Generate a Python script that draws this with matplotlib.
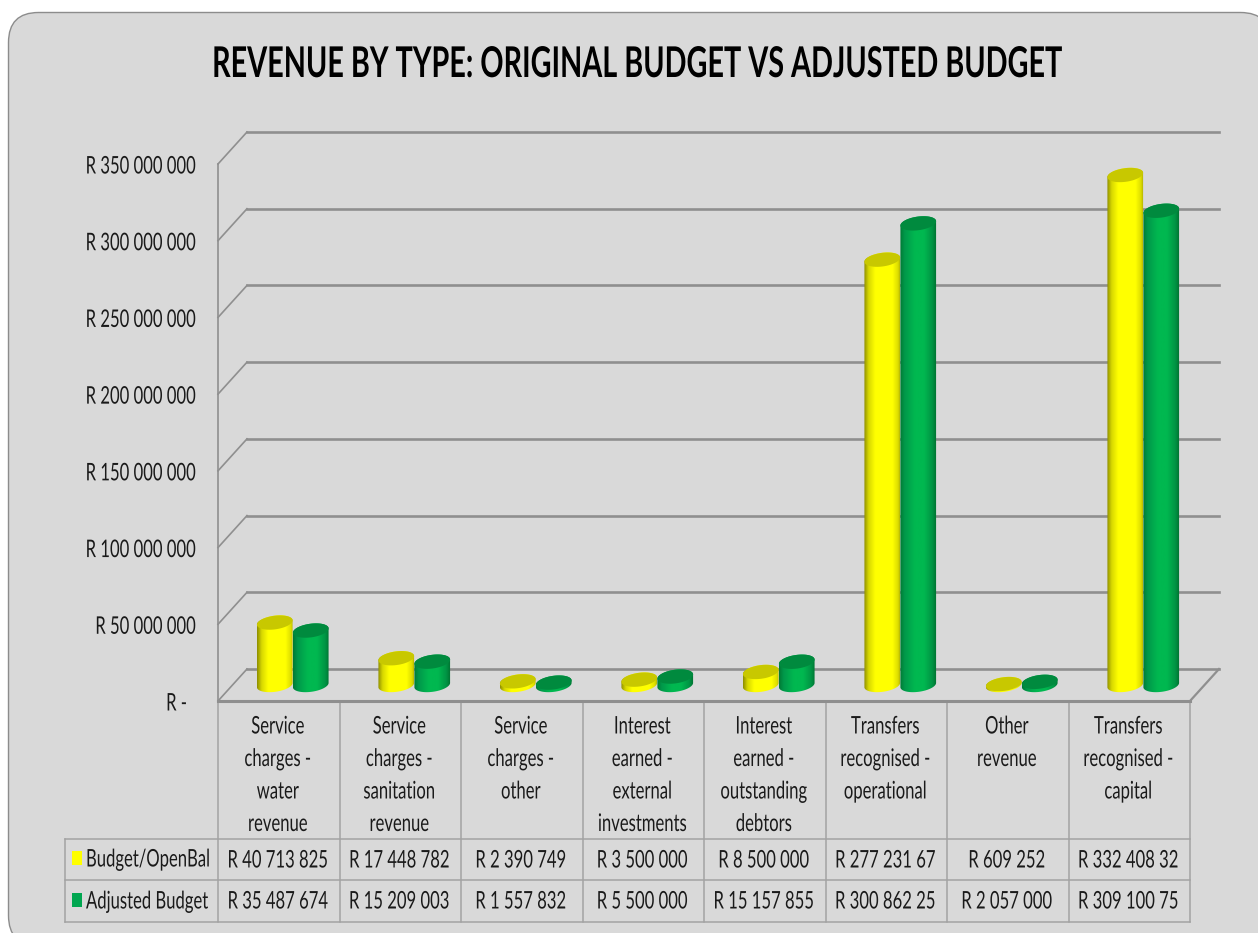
import numpy as np
import matplotlib
matplotlib.use('Agg')
import matplotlib.pyplot as plt
from matplotlib.patches import FancyBboxPatch, Polygon, Rectangle
from matplotlib.colors import LinearSegmentedColormap
from matplotlib.patheffects import AbstractPathEffect
from matplotlib.text import Text
from matplotlib.transforms import Affine2D, Bbox, blended_transform_factory

categories = [
    ['Service', 'charges -', 'water', 'revenue'],
    ['Service', 'charges -', 'sanitation', 'revenue'],
    ['Service', 'charges -', 'other'],
    ['Interest', 'earned -', 'external', 'investments'],
    ['Interest', 'earned -', 'outstanding', 'debtors'],
    ['Transfers', 'recognised -', 'operational'],
    ['Other', 'revenue'],
    ['Transfers', 'recognised -', 'capital'],
]
budget = [40713825, 17448782, 2390749, 3500000, 8500000, 277231670, 609252, 332408320]
adjusted = [35487674, 15209003, 1557832, 5500000, 15157855, 300862250, 2057000, 309100750]
# the last columns are cut short in the table cells
budget_labels = ['R 40 713 825', 'R 17 448 782', 'R 2 390 749', 'R 3 500 000',
                 'R 8 500 000', 'R 277 231 67', 'R 609 252', 'R 332 408 32']
adjusted_labels = ['R 35 487 674', 'R 15 209 003', 'R 1 557 832', 'R 5 500 000',
                   'R 15 157 855', 'R 300 862 25', 'R 2 057 000', 'R 309 100 75']
y_ticks = [0, 50000000, 100000000, 150000000, 200000000, 250000000, 300000000, 350000000]
y_labels = ['R -', 'R 50 000 000', 'R 100 000 000', 'R 150 000 000', 'R 200 000 000',
            'R 250 000 000', 'R 300 000 000', 'R 350 000 000']
series_names = ['Budget/OpenBal', 'Adjusted Budget']

W, H = 1258, 933
LINE = '#8f8f8f'
CELL = '#a3a3a3'
TEXT = '#1a1a1a'
plt.rcParams['font.family'] = ['Lato', 'DejaVu Sans']


class Squeeze(AbstractPathEffect):
    # narrows the glyph outlines around the anchor of the text
    def __init__(self, text, factor):
        super().__init__()
        self.text = text
        self.factor = factor

    def draw_path(self, renderer, gc, tpath, affine, rgbFace=None):
        ax_x = self.text.get_transform().transform(self.text.get_position())[0]
        squeeze = Affine2D().translate(-ax_x, 0).scale(self.factor, 1).translate(ax_x, 0)
        renderer.draw_path(gc, tpath, affine + squeeze, rgbFace)


class NarrowText(Text):
    def __init__(self, x, y, s, factor=0.7, **kw):
        super().__init__(x, y, s, **kw)
        self.factor = factor
        self.set_path_effects([Squeeze(self, factor)])

    def get_window_extent(self, renderer=None, dpi=None):
        bb = super().get_window_extent(renderer, dpi)
        ax_x = self.get_transform().transform(self.get_position())[0]
        return Bbox([[ax_x + (bb.x0 - ax_x) * self.factor, bb.y0],
                     [ax_x + (bb.x1 - ax_x) * self.factor, bb.y1]])


def narrow(axes, x, y, s, **kw):
    kw.setdefault('transform', axes.transData)
    kw.setdefault('fontsize', 17.5)
    kw.setdefault('color', TEXT)
    kw.setdefault('va', 'center')
    kw.setdefault('factor', 0.685)
    t = NarrowText(x, y, s, **kw)
    axes.add_artist(t)
    return t


fig = plt.figure(figsize=(W / 100, H / 100), dpi=100, facecolor='white')

# page layer in pixels, y pointing down: panel, title, table
page = fig.add_axes([0, 0, 1, 1])
page.set_xlim(0, W)
page.set_ylim(H, 0)
page.axis('off')
page.add_patch(FancyBboxPatch((8.5, 12.5), 1262, 933, boxstyle='round,pad=0,rounding_size=30',
                              fc='#d9d9d9', ec='#8c8c8c', lw=1))
narrow(page, 637, 65, 'REVENUE BY TYPE: ORIGINAL BUDGET VS ADJUSTED BUDGET', ha='center',
       fontsize=30.5, fontweight='bold', color='black', factor=0.68)

# plot layer, front plane of the 3d box
x0, x1, y0, y1 = 218, 1190, 701, 164
ax = fig.add_axes([x0 / W, 1 - y0 / H, (x1 - x0) / W, (y0 - y1) / H])
ax.patch.set_alpha(0)
for s in ax.spines.values():
    s.set_visible(False)
ax.set_xticks([])
ax.set_yticks([])

px_x = 8 / (x1 - x0)
px_y = 350000000 / (y0 - y1)
depth_x, depth_y = 29 * px_x, 32 * px_y


def wall_lines():
    for v in y_ticks:
        ax.plot([0, depth_x], [v, v + depth_y], color=LINE, lw=1.2, clip_on=False, zorder=1)
        ax.plot([depth_x, 8 + depth_x], [v + depth_y, v + depth_y], color=LINE, lw=1.9,
                clip_on=False, zorder=1)
    ax.plot([0, 0], [0, 350000000], color=LINE, lw=1.2, clip_on=False, zorder=1)
    ax.plot([0, 8], [0, 0], color=LINE, lw=2.2, clip_on=False, zorder=1)
    ax.plot([8, 8 + depth_x], [0, depth_y], color=LINE, lw=1.6, clip_on=False, zorder=1)


def ellipse_pts(cx, v, t):
    # tilted ellipse, radii and tilt worked out in pixels then put into data units
    a, b, tilt = 18.0, 6.8, np.radians(8)
    dx = a * np.cos(t) * np.cos(tilt) - b * np.sin(t) * np.sin(tilt)
    dy = a * np.cos(t) * np.sin(tilt) + b * np.sin(t) * np.cos(tilt)
    return np.column_stack([cx + dx * px_x, v + dy * px_y])


def cylinder(cx, value, shade, top_color, z):
    base = 0.5 * depth_y
    lower = ellipse_pts(cx, base, np.linspace(np.pi, 2 * np.pi, 40))
    upper = ellipse_pts(cx, base + value, np.linspace(0, np.pi, 40))
    body = Polygon(np.vstack([lower, upper]), closed=True, fc='none', ec='none', zorder=z,
                   clip_on=False)
    ax.add_patch(body)
    half = 18.2 * px_x
    im = ax.imshow(np.linspace(0, 1, 64).reshape(1, -1), cmap=shade, aspect='auto', zorder=z,
                   extent=[cx - half, cx + half, 0, base + value + 8 * px_y])
    im.set_clip_path(body)
    ax.add_patch(Polygon(ellipse_pts(cx, base + value, np.linspace(0, 2 * np.pi, 60)), closed=True,
                         fc=top_color, ec='none', zorder=z + 0.5, clip_on=False))


yellow = LinearSegmentedColormap.from_list('yellow_cyl', [(0, '#8f8f00'), (0.12, '#d8d800'),
                                                          (0.3, '#ffff00'), (0.78, '#ffff00'),
                                                          (0.93, '#dcdc00'), (1, '#a8a800')])
green = LinearSegmentedColormap.from_list('green_cyl', [(0, '#007a35'), (0.12, '#00984a'),
                                                        (0.4, '#00b850'), (0.65, '#00b850'),
                                                        (0.88, '#009444'), (1, '#00702f')])

wall_lines()
offset = 18 * px_x
for i in range(len(budget)):
    c = i + 0.5 + depth_x / 2 - 0.5 * px_x
    cylinder(c - offset, budget[i], yellow, '#c8c800', 3)
    cylinder(c + offset, adjusted[i], green, '#008a3e', 4)
ax.set_xlim(0, 8)
ax.set_ylim(0, 350000000)

# value axis labels, the zero one sits a little further in
label_tr = blended_transform_factory(page.transData, ax.transData)
for v, s in zip(y_ticks, y_labels):
    narrow(page, 187 if v == 0 else 196, v - 3 * px_y, s, ha='right', transform=label_tr)

# data table under the plot
edges = np.linspace(x0, x1, len(categories) + 1)
row_y = [839, 880, 922]
for x in edges:
    page.plot([x, x], [y0, row_y[-1]], color=CELL, lw=1.1)
for y in row_y:
    page.plot([65, x1], [y, y], color=CELL, lw=1.1)
page.plot([65, 65], [row_y[0], row_y[-1]], color=CELL, lw=1.1)

for i, lines in enumerate(categories):
    cx = (edges[i] + edges[i + 1]) / 2 - 1
    for j, s in enumerate(lines):
        narrow(page, cx, 727 + j * 32.5, s, ha='center')
    narrow(page, cx, 861, budget_labels[i], ha='center')
    narrow(page, cx, 902, adjusted_labels[i], ha='center')

for name, y, col in zip(series_names, [858, 900], ['#ffff00', '#00a650']):
    page.add_patch(Rectangle((72, y - 7), 10, 14, fc=col, ec='none'))
    narrow(page, 86, y + 2, name, ha='left')

fig.savefig('out.png', dpi=100)
